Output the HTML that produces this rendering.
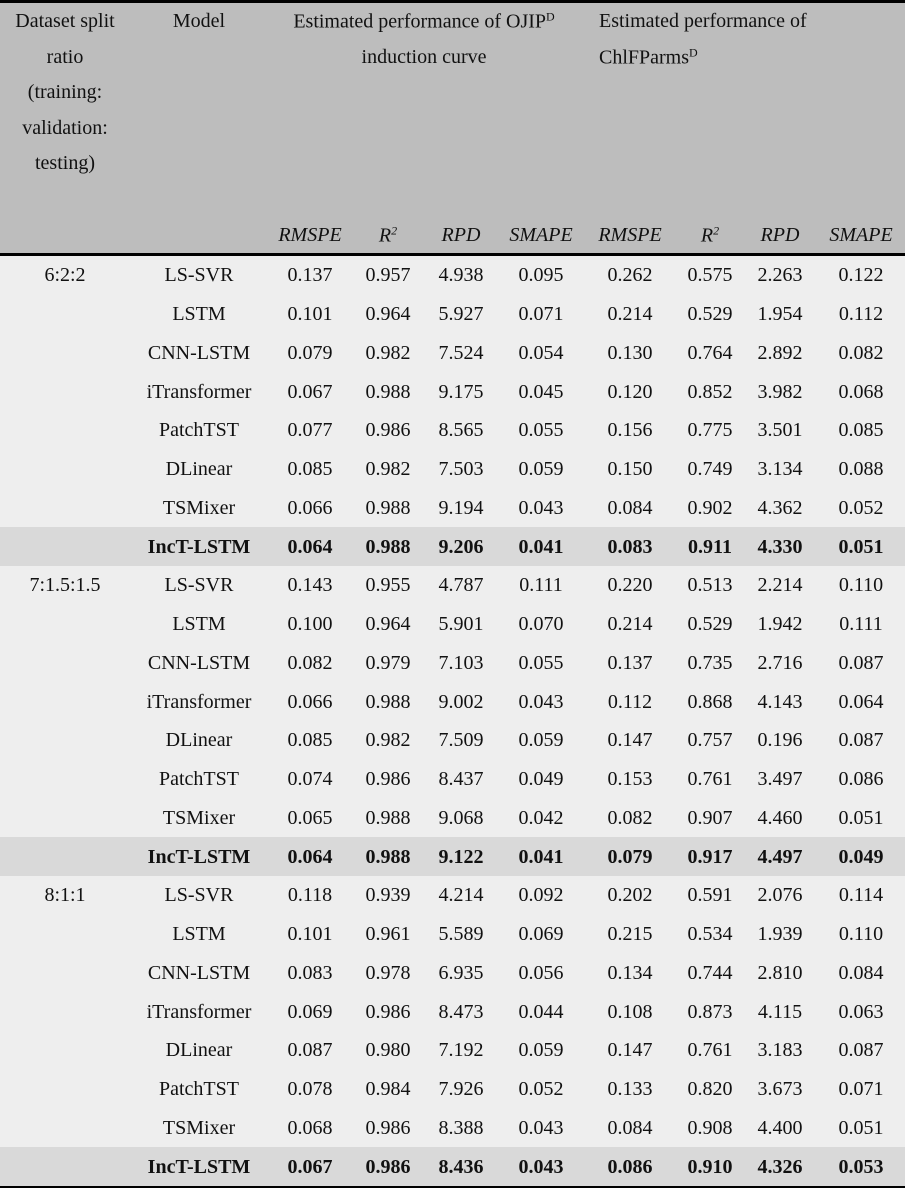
<!DOCTYPE html>
<html><head><meta charset="utf-8">
<style>
body{margin:0;width:905px;height:1188px;background:#fff;font-family:"Liberation Serif",serif;font-size:20px;color:#111;position:relative;overflow:hidden}
.hdr{position:absolute;left:0;top:3px;width:905px;height:251px;background:#bdbdbd}
.topb{position:absolute;left:0;top:0;width:905px;height:3px;background:#000}
.midb{position:absolute;left:0;top:253px;width:905px;height:3px;background:#000}
.botb{position:absolute;left:0;top:1185px;width:905px;height:3px;background:#000}
.body{position:absolute;left:0;top:256px;width:905px;height:929px;background:#eeeeee}
.t{position:absolute;white-space:nowrap;transform:translate(-50%,-50%);line-height:1}
.row{position:absolute;left:0;width:905px;height:39px}
.bold{background:#d9d9d9;font-weight:bold}
sup{font-size:12px;vertical-align:7px}
</style></head><body>
<div class="hdr"></div>
<div class="topb"></div>
<div class="body"></div>
<div class="midb"></div>
<div class="botb"></div>
<div id="hd">
<div class="t" style="left:65px;top:21px">Dataset split</div>
<div class="t" style="left:65px;top:57px">ratio</div>
<div class="t" style="left:65px;top:92px">(training:</div>
<div class="t" style="left:65px;top:128px">validation:</div>
<div class="t" style="left:65px;top:163px">testing)</div>
<div class="t" style="left:199px;top:21px">Model</div>
<div class="t" style="left:424px;top:21px">Estimated performance of OJIP<sup>D</sup></div>
<div class="t" style="left:424px;top:57px">induction curve</div>
<div class="t" style="left:599px;top:21px;transform:translate(0,-50%)">Estimated performance of</div>
<div class="t" style="left:599px;top:57px;transform:translate(0,-50%)">ChlFParms<sup>D</sup></div>
</div>
<div id="rows"></div>
<script>
const metrics=["RMSPE","R","RPD","SMAPE","RMSPE","R","RPD","SMAPE"];
const cx=[65,199,310,388,461,541,630,710,780,861];
const splits=["6:2:2","7:1.5:1.5","8:1:1"];
const models=[
["LS-SVR","LSTM","CNN-LSTM","iTransformer","PatchTST","DLinear","TSMixer","IncT-LSTM"],
["LS-SVR","LSTM","CNN-LSTM","iTransformer","DLinear","PatchTST","TSMixer","IncT-LSTM"],
["LS-SVR","LSTM","CNN-LSTM","iTransformer","DLinear","PatchTST","TSMixer","IncT-LSTM"]];
const values=[
["0.137 0.957 4.938 0.095 0.262 0.575 2.263 0.122","0.101 0.964 5.927 0.071 0.214 0.529 1.954 0.112","0.079 0.982 7.524 0.054 0.130 0.764 2.892 0.082","0.067 0.988 9.175 0.045 0.120 0.852 3.982 0.068","0.077 0.986 8.565 0.055 0.156 0.775 3.501 0.085","0.085 0.982 7.503 0.059 0.150 0.749 3.134 0.088","0.066 0.988 9.194 0.043 0.084 0.902 4.362 0.052","0.064 0.988 9.206 0.041 0.083 0.911 4.330 0.051"],
["0.143 0.955 4.787 0.111 0.220 0.513 2.214 0.110","0.100 0.964 5.901 0.070 0.214 0.529 1.942 0.111","0.082 0.979 7.103 0.055 0.137 0.735 2.716 0.087","0.066 0.988 9.002 0.043 0.112 0.868 4.143 0.064","0.085 0.982 7.509 0.059 0.147 0.757 0.196 0.087","0.074 0.986 8.437 0.049 0.153 0.761 3.497 0.086","0.065 0.988 9.068 0.042 0.082 0.907 4.460 0.051","0.064 0.988 9.122 0.041 0.079 0.917 4.497 0.049"],
["0.118 0.939 4.214 0.092 0.202 0.591 2.076 0.114","0.101 0.961 5.589 0.069 0.215 0.534 1.939 0.110","0.083 0.978 6.935 0.056 0.134 0.744 2.810 0.084","0.069 0.986 8.473 0.044 0.108 0.873 4.115 0.063","0.087 0.980 7.192 0.059 0.147 0.761 3.183 0.087","0.078 0.984 7.926 0.052 0.133 0.820 3.673 0.071","0.068 0.986 8.388 0.043 0.084 0.908 4.400 0.051","0.067 0.986 8.436 0.043 0.086 0.910 4.326 0.053"]];
const hd=document.getElementById('hd');
metrics.forEach((m,i)=>{
  const d=document.createElement('div');d.className='t';
  d.style.left=cx[i+2]+'px';d.style.top='235px';
  d.innerHTML=m==="R"?"<i>R<sup>2</sup></i>":"<i>"+m+"</i>";
  
  
  hd.appendChild(d);
});
const root=document.getElementById('rows');
const rh=38.75;
let r=0;
splits.forEach((s,g)=>{
  models[g].forEach((m,k)=>{
    const row=document.createElement('div');
    row.className='row'+(k===7?' bold':'');
    row.style.top=(256+r*rh)+'px';row.style.height=rh+'px';
    
    
    const cells=[k===0?s:"",m].concat(values[g][k].split(' '));
    cells.forEach((c,j)=>{
      if(!c)return;
      const d=document.createElement('div');d.className='t';
      d.style.left=cx[j]+'px';d.style.top=(rh/2)+'px';d.textContent=c;
      
      
      row.appendChild(d);
    });
    root.appendChild(row);r++;
  });
});
</script>
</body></html>
